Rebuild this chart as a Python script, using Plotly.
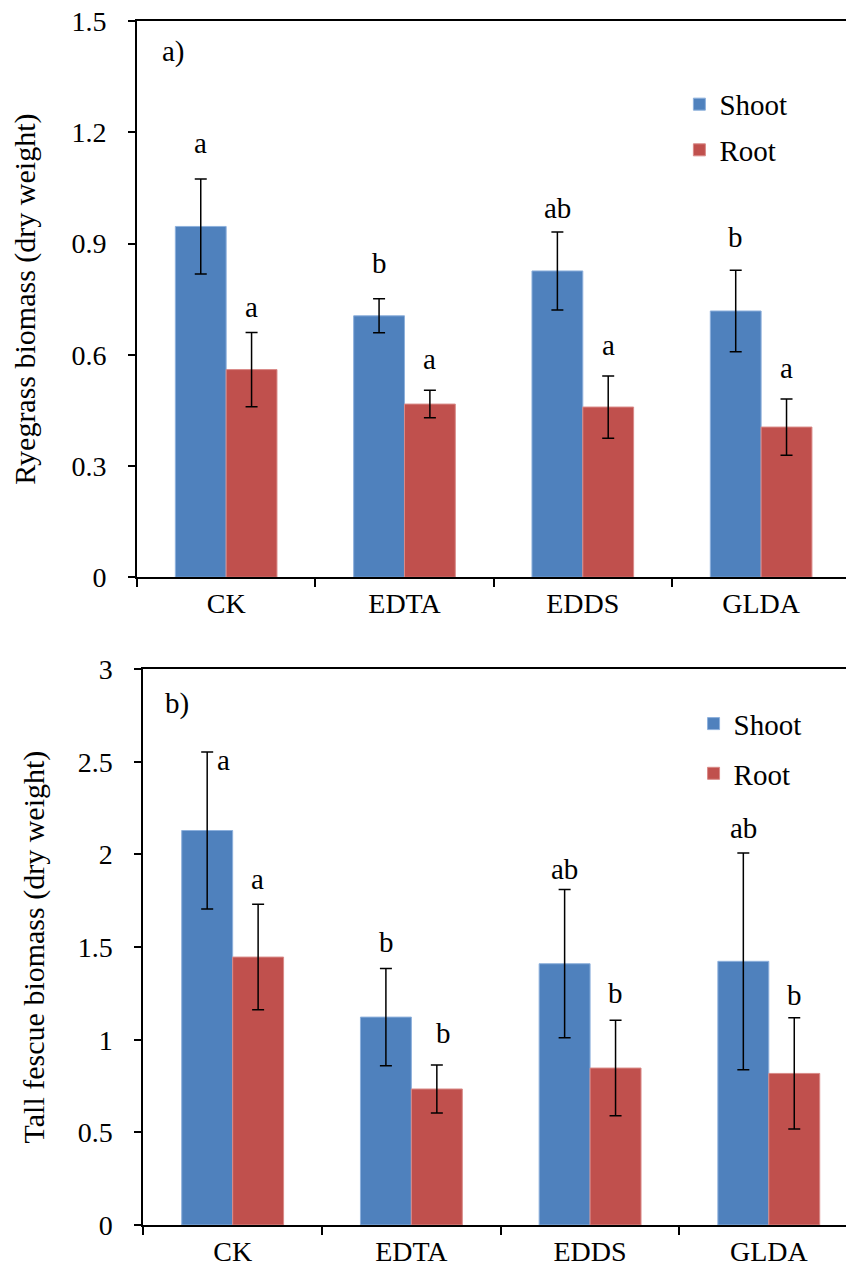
import plotly.graph_objects as go

categories = ["CK", "EDTA", "EDDS", "GLDA"]

# Panel a) Ryegrass
rye_shoot = [0.946, 0.705, 0.826, 0.718]
rye_shoot_err = [0.128, 0.046, 0.105, 0.110]
rye_root = [0.560, 0.467, 0.459, 0.405]
rye_root_err = [0.100, 0.037, 0.084, 0.076]
rye_shoot_letters = ["a", "b", "ab", "b"]
rye_root_letters = ["a", "a", "a", "a"]

# Panel b) Tall fescue
fes_shoot = [2.129, 1.122, 1.410, 1.423]
fes_shoot_err = [0.423, 0.262, 0.400, 0.585]
fes_root = [1.446, 0.734, 0.847, 0.818]
fes_root_err = [0.285, 0.130, 0.258, 0.300]
fes_shoot_letters = ["a", "b", "ab", "ab"]
fes_root_letters = ["a", "b", "b", "b"]

BLUE = "#4F81BD"
RED = "#C0504D"
FONT = "Liberation Serif, Times New Roman, serif"
FS = 28
FS_T = 30
FS_L = 29

W, H = 846, 1272
ML, MT, MB = 137, 21, 47

fig = go.Figure()

def add_bars(xax, yax, shoot, shoot_err, root, root_err, legend, show):
    fig.add_trace(go.Bar(
        x=categories, y=shoot, name="Shoot", xaxis=xax, yaxis=yax,
        marker=dict(color=BLUE, line=dict(color="#8DB0DC", width=1)),
        error_y=dict(type="data", array=shoot_err, color="black", thickness=1.5, width=6),
        legend=legend, legendgroup=legend + "s", showlegend=show))
    fig.add_trace(go.Bar(
        x=categories, y=root, name="Root", xaxis=xax, yaxis=yax,
        marker=dict(color=RED, line=dict(color="#D98A88", width=1)),
        error_y=dict(type="data", array=root_err, color="black", thickness=1.5, width=6),
        legend=legend, legendgroup=legend + "r", showlegend=show))

add_bars("x", "y", rye_shoot, rye_shoot_err, rye_root, rye_root_err, "legend", True)
add_bars("x2", "y2", fes_shoot, fes_shoot_err, fes_root, fes_root_err, "legend2", True)

half_bar = 25.3
annotations = []

def add_letters(xref, yref, vals, errs, letters, shift, gaps, xextra=None):
    for i, c in enumerate(categories):
        xs = shift + (xextra[i] if xextra else 0)
        annotations.append(dict(
            x=c, y=vals[i] + errs[i], xref=xref, yref=yref, text=letters[i],
            showarrow=False, xshift=xs, yshift=gaps[i], yanchor="bottom",
            font=dict(family=FONT, size=FS_L, color="black")))

add_letters("x", "y", rye_shoot, rye_shoot_err, rye_shoot_letters, -half_bar, [18, 18, 6, 15])
add_letters("x", "y", rye_root, rye_root_err, rye_root_letters, half_bar, [8, 13, 13, 13])
add_letters("x2", "y2", fes_shoot, fes_shoot_err, fes_shoot_letters, -half_bar, [-26, 9, 3, 7], [16, 0, 0, 0])
add_letters("x2", "y2", fes_root, fes_root_err, fes_root_letters, half_bar, [7, 14, 9, 5], [0, 7, 0, 0])

annotations.append(dict(x=0.032, y=0.945, xref="x domain", yref="y domain", text="a)",
                        showarrow=False, xanchor="left", yanchor="middle",
                        font=dict(family=FONT, size=FS_L, color="black")))
annotations.append(dict(x=0.028, y=0.939, xref="x2 domain", yref="y2 domain", text="b)",
                        showarrow=False, xanchor="left", yanchor="middle",
                        font=dict(family=FONT, size=FS_L, color="black")))

axis_common = dict(showline=True, linecolor="black", linewidth=2, ticks="outside",
                   tickcolor="black", tickwidth=2, showgrid=False, zeroline=False,
                   automargin=False,
                   tickfont=dict(family=FONT, size=FS, color="black"))

pw = W - ML
fig.update_layout(
    width=W, height=H,
    margin=dict(l=ML, r=0, t=MT, b=MB, autoexpand=False),
    paper_bgcolor="white", plot_bgcolor="white",
    barmode="group", bargap=0.43, bargroupgap=0,
    font=dict(family=FONT, size=FS, color="black"),
    xaxis=dict(domain=[0, 1], anchor="y", type="category", range=[-0.5, 3.476],
               tickson="boundaries", ticklen=8, mirror=True, **axis_common),
    yaxis=dict(domain=[0.538, 1], anchor="x", range=[0, 1.5], tickvals=[0, 0.3, 0.6, 0.9, 1.2, 1.5],
               ticklen=7, ticklabelstandoff=16,
               title=dict(text="Ryegrass biomass (dry weight)", standoff=27,
                          font=dict(family=FONT, size=FS_T, color="black")),
               **axis_common),
    xaxis2=dict(domain=[(143.3 - ML) / pw, 1], anchor="y2", type="category", range=[-0.5, 3.432],
                tickson="boundaries", ticklen=8, mirror=True, **axis_common),
    yaxis2=dict(domain=[0, 0.4617], anchor="x2", range=[0, 3], tickvals=[0, 0.5, 1, 1.5, 2, 2.5, 3],
                ticklen=7, ticklabelstandoff=16,
                title=dict(text="Tall fescue biomass (dry weight)", standoff=24,
                           font=dict(family=FONT, size=FS_T, color="black")),
                **axis_common),
    legend=dict(x=0.765, y=0.952, xanchor="left", yanchor="top", tracegroupgap=5,
                bgcolor="rgba(0,0,0,0)", font=dict(family=FONT, size=FS_L, color="black")),
    legend2=dict(x=0.785, y=0.4375, xanchor="left", yanchor="top", tracegroupgap=9,
                 bgcolor="rgba(0,0,0,0)", font=dict(family=FONT, size=FS_L, color="black")),
    annotations=annotations,
)

fig.write_html("out.html", config={"displayModeBar": False},
               post_script="document.body.style.margin='0';document.body.style.padding='0';")
